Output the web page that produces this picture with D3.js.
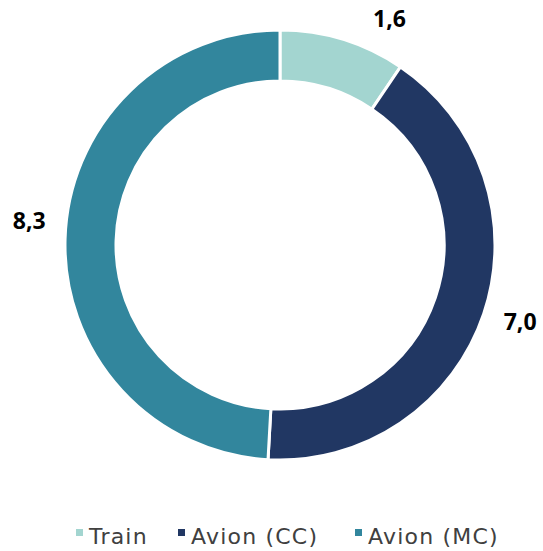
<!DOCTYPE html>
<html>
<head>
<meta charset="utf-8">
<script src="https://cdn.jsdelivr.net/npm/d3@7"></script>
<style>
  html, body { margin: 0; padding: 0; background: #fff; }
  svg { display: block; }
</style>
</head>
<body>
<svg id="chart" width="543" height="551"></svg>
<script>
// Emissions by transport mode
const categories = ["Train", "Avion (CC)", "Avion (MC)"];
const values = [1.6, 7.0, 8.3];
const valueLabels = ["1,6", "7,0", "8,3"];
const colors = ["#a3d5d0", "#213763", "#32869d"];

const width = 543, height = 551;
const cx = 280, cy = 245;
const outerR = 215, innerR = 164;
const labelR = 252;
// small angular nudges (degrees) so labels sit clear of each other
const labelNudge = [0, -1, 4];

const svg = d3.select("#chart");
const g = svg.append("g").attr("transform", `translate(${cx},${cy})`);

const data = categories.map((c, i) => ({ name: c, value: values[i], label: valueLabels[i], color: colors[i], nudge: labelNudge[i] }));

const pie = d3.pie().value(d => d.value).sort(null);
const arc = d3.arc().innerRadius(innerR).outerRadius(outerR);
const arcs = pie(data);

g.selectAll("path.slice")
  .data(arcs)
  .join("path")
  .attr("class", "slice")
  .attr("d", arc)
  .attr("fill", d => d.data.color)
  .attr("stroke", "#fff")
  .attr("stroke-width", 3)
  .attr("stroke-linejoin", "miter");

// value labels outside the ring, kept inside the top edge of the canvas
const minY = 18 - cy;
g.selectAll("text.val")
  .data(arcs)
  .join("text")
  .attr("class", "val")
  .each(function (d) {
    const a = (d.startAngle + d.endAngle) / 2 + d.data.nudge * Math.PI / 180;
    let x = labelR * Math.sin(a);
    let y = -labelR * Math.cos(a);
    if (y < minY) {
      y = minY;
      x = Math.sign(x || 1) * Math.sqrt(labelR * labelR - y * y);
    }
    d3.select(this).attr("x", x).attr("y", y);
  })
  .attr("text-anchor", "middle")
  .attr("dominant-baseline", "central")
  .attr("font-family", "'Open Sans', 'DejaVu Sans', sans-serif")
  .attr("font-weight", 700)
  .attr("font-size", 23)
  .attr("fill", "#000")
  .text(d => d.data.label);

// legend
const legendX = [76, 178, 355];
const legend = svg.append("g").attr("class", "legend");
const items = legend.selectAll("g.item")
  .data(data)
  .join("g")
  .attr("class", "item")
  .attr("transform", (d, i) => `translate(${legendX[i]},0)`);

items.append("rect")
  .attr("x", 0).attr("y", 529)
  .attr("width", 7).attr("height", 7)
  .attr("fill", d => d.color);

items.append("text")
  .attr("x", 13).attr("y", 544)
  .attr("font-family", "'DejaVu Sans', sans-serif")
  .attr("font-size", 22)
  .attr("letter-spacing", 1.2)
  .attr("fill", "#404040")
  .text(d => d.name);
</script>
</body>
</html>
